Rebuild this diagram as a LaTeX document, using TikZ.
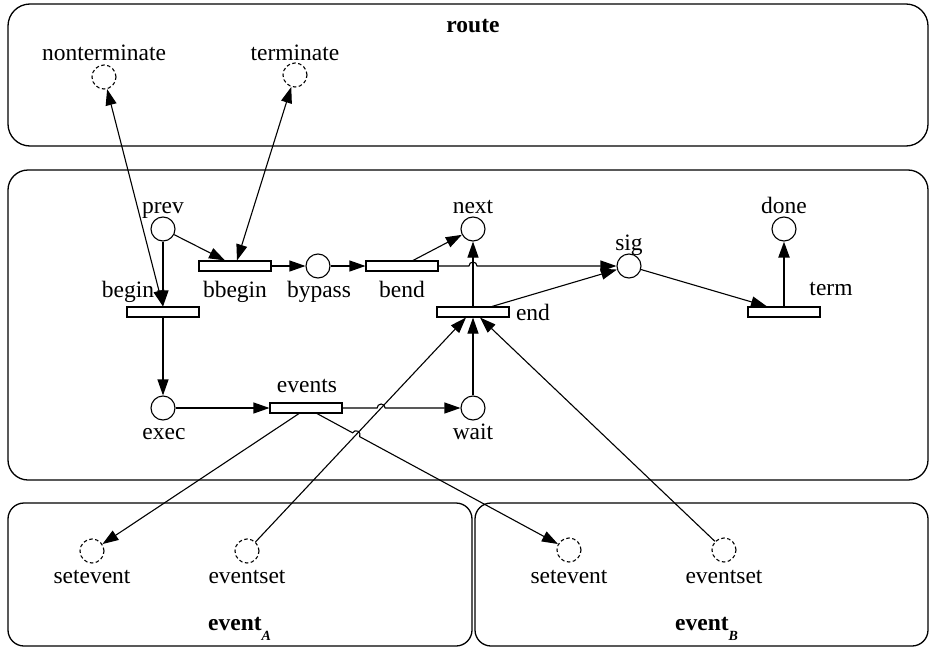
\documentclass[tikz,border=0pt]{standalone}
\usepackage{fontspec}
\setmainfont{Liberation Serif}
\usetikzlibrary{arrows.meta,calc,intersections}
\begin{document}
\begin{tikzpicture}[x=1pt,y=-1pt,
  every node/.style={font=\fontsize{23.5}{28}\selectfont},
  place/.style={circle,draw,fill=white,minimum size=24pt,inner sep=0pt,line width=1.1pt},
  vplace/.style={circle,draw,dash pattern=on 3.5pt off 2.5pt,minimum size=24pt,inner sep=0pt,line width=1.1pt},
  trans/.style={rectangle,draw,fill=white,minimum width=72pt,minimum height=10pt,inner sep=0pt,line width=1.1pt},
  lbl/.style={anchor=base,inner sep=0pt},
  conn/.style={line width=1.1pt,-{Triangle[length=16pt,width=11pt]}},
  biconn/.style={line width=1.1pt,{Triangle[length=16pt,width=11pt]}-{Triangle[length=16pt,width=11pt]}},
  thickconn/.style={line width=2pt,-{Triangle[length=16pt,width=11pt]}},
  frame/.style={draw,line width=1.3pt}]
\useasboundingbox (0,0) rectangle (930,648);
% frames
\draw[frame,rounded corners=22pt] (8,4) rectangle (928,146);
\draw[frame,rounded corners=20pt] (8,170) rectangle (928,480);
\draw[frame,rounded corners=16pt] (8,503) rectangle (472,646);
\draw[frame,rounded corners=16pt] (475,503) rectangle (928,646);
% frame titles
\node[lbl] (troute) at (473,32) {\textbf{route}};
\node[lbl,anchor=base west] (tevA) at (208,630) {\textbf{event}\raisebox{-0.45em}{\fontsize{14}{14}\selectfont\bfseries\itshape A}};
\node[lbl,anchor=base west] (tevB) at (675,630) {\textbf{event}\raisebox{-0.45em}{\fontsize{14}{14}\selectfont\bfseries\itshape B}};
% route places
\node[vplace] (nonterm) at (104,77) {};
\node[vplace] (termin) at (295,75) {};
\node[lbl] (lnonterm) at (104,60) {nonterminate};
\node[lbl] (lterminate) at (295,60) {terminate};
% event places
\node[vplace] (setA) at (92,551) {};
\node[vplace] (esetA) at (247,551) {};
\node[vplace] (setB) at (569,550) {};
\node[vplace] (esetB) at (724,550) {};
\node[lbl] (lsetA) at (92,583) {setevent};
\node[lbl] (lesetA) at (247,583) {eventset};
\node[lbl] (lsetB) at (569,583) {setevent};
\node[lbl] (lesetB) at (724,583) {eventset};
% main places and transitions
\node[place] (prev) at (163,229) {};
\node[trans] (bbegin) at (235,266) {};
\node[place] (bypass) at (318,266) {};
\node[trans] (bend) at (402,266) {};
\node[place] (next) at (473,229) {};
\node[trans] (begin) at (163,312) {};
\node[trans] (endt) at (473,312) {};
\node[place] (sig) at (629,266) {};
\node[place] (done) at (784,229) {};
\node[trans] (term) at (784,312) {};
\node[place] (exec) at (163,408) {};
\node[trans] (events) at (306,408) {};
\node[place] (wait) at (473,408) {};
% labels
\node[lbl] (lprev) at (163,213) {prev};
\node[lbl] (lnext) at (473,213) {next};
\node[lbl] (ldone) at (784,213) {done};
\node[lbl] (lsig) at (629,250) {sig};
\node[lbl] (lbegin) at (128,297) {begin};
\node[lbl] (lbbegin) at (235,297) {bbegin};
\node[lbl] (lbypass) at (319,297) {bypass};
\node[lbl] (lbend) at (402,297) {bend};
\node[lbl] (lterm) at (831,295) {term};
\node[lbl] (lend) at (533,320) {end};
\node[lbl] (levents) at (307,392) {events};
\node[lbl] (lexec) at (164,439) {exec};
\node[lbl] (lwait) at (473,439) {wait};
% helper coordinates
\coordinate (evA) at ($(events.south)+(-7,0)$);
\coordinate (evB) at ($(events.south)+(11,0)$);
\coordinate (endL) at ($(endt.south)+(-7,0)$);
\coordinate (endR) at ($(endt.south)+(7,0)$);
\path[name path=lineA] (esetA) -- (endL);
\path[name path=lineEW] (events.east) -- (wait.west);
\path[name path=lineEB] (evB) -- (setB);
\path[name intersections={of=lineA and lineEW, by=X1}];
\path[name intersections={of=lineA and lineEB, by=X2}];
% connectors
\draw[conn] (prev) -- ($(bbegin.north)+(-10,0)$);
\draw[biconn] (termin) -- ($(bbegin.north)+(2,0)$);
\draw[conn] (prev) -- (begin);
\draw[biconn] (nonterm) -- (begin.north);
\draw[conn] (begin) -- (exec);
\draw[conn] (exec) -- (events);
\draw[conn] (bbegin) -- (bypass);
\draw[conn] (bypass) -- (bend);
\draw[conn] ($(bend.north)+(11,0)$) -- (next);
\draw[conn] (endt) -- (next);
\draw[conn] (bend.east) -- ($(next|-bend.east)+(-4,0)$) arc[start angle=180,end angle=0,radius=4pt] -- (sig);
\draw[conn] ($(endt.north)+(19,0)$) -- (sig);
\draw[conn] (sig) -- ($(term.north)+(-17,0)$);
\draw[thickconn] (term) -- (done);
\draw[conn] (wait) -- (endt);
\draw[conn] (events.east) -- ($(X1)+(-4,0)$) arc[start angle=180,end angle=0,radius=4pt] -- (wait);
\draw[conn] (evA) -- (setA);
\draw[conn] let \p1=($(setB)-(evB)$), \n1={atan2(\y1,\x1)} in
  (evB) -- ($(X2)!4pt!(evB)$) arc[start angle=\n1+180,end angle=\n1,radius=4pt] -- (setB);
\draw[conn] (esetA) -- (endL);
\draw[conn] (esetB) -- (endR);
\end{tikzpicture}
\end{document}
